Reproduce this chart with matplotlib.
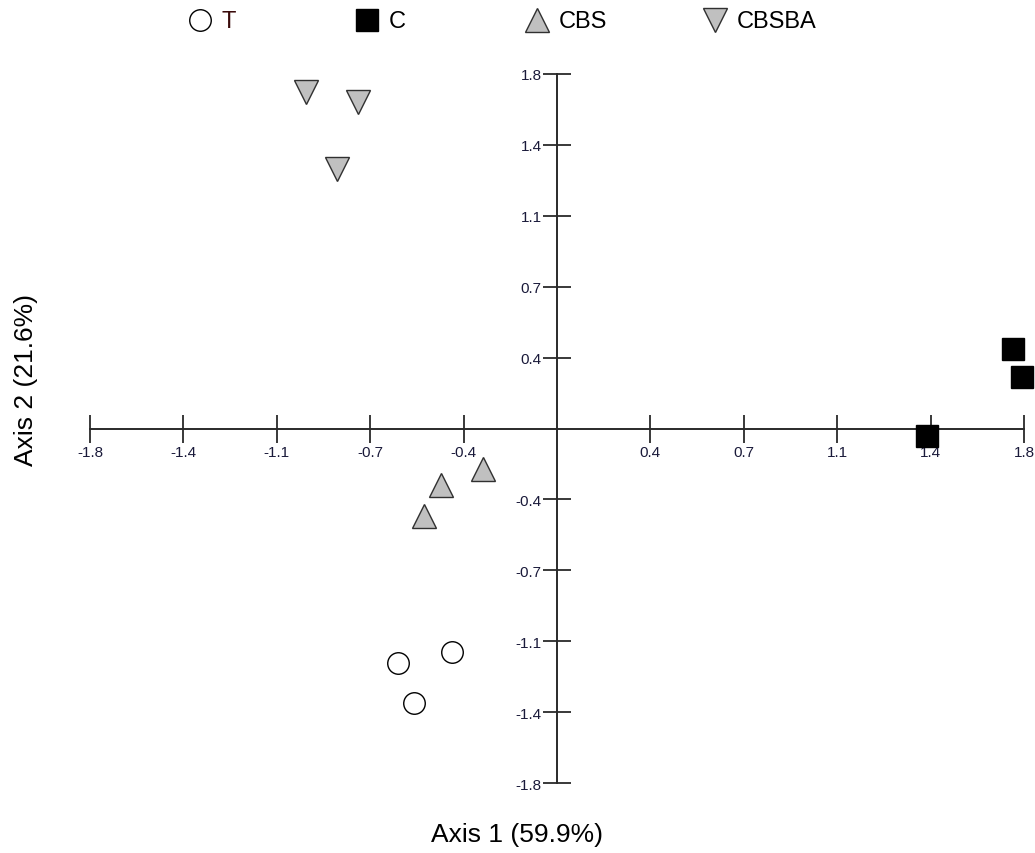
import numpy as np
import matplotlib
matplotlib.use("Agg")
import matplotlib.pyplot as plt
from matplotlib.lines import Line2D

plt.rcParams['font.family'] = ['Liberation Sans', 'DejaVu Sans']

# scores (eixo 1, eixo 2)
grupos = ['T', 'C', 'CBS', 'CBSBA']
eixo1_T = [-0.613, -0.405, -0.551]
eixo2_T = [-1.193, -1.137, -1.396]
eixo1_C = [1.758, 1.793, 1.426]
eixo2_C = [0.406, 0.259, -0.036]
eixo1_CBS = [-0.285, -0.447, -0.513]
eixo2_CBS = [-0.208, -0.287, -0.442]
eixo1_CBSBA = [-0.968, -0.767, -0.848]
eixo2_CBSBA = [1.708, 1.660, 1.320]

ticks = [-1.8, -1.44, -1.08, -0.72, -0.36, 0.36, 0.72, 1.08, 1.44, 1.8]
tick_labels = ['-1.8', '-1.4', '-1.1', '-0.7', '-0.4', '0.4', '0.7', '1.1', '1.4', '1.8']

estilos = {
    'T': dict(marker='o', mfc='white', mec='black', ms=15.5),
    'C': dict(marker='s', mfc='black', mec='black', ms=16.5),
    'CBS': dict(marker='^', mfc='#c0c0c0', mec='#303030', ms=17),
    'CBSBA': dict(marker='v', mfc='#c0c0c0', mec='#303030', ms=17),
}
dados = {
    'T': (eixo1_T, eixo2_T),
    'C': (eixo1_C, eixo2_C),
    'CBS': (eixo1_CBS, eixo2_CBS),
    'CBSBA': (eixo1_CBSBA, eixo2_CBSBA),
}

fig = plt.figure(figsize=(10.35, 8.54), dpi=100)
ax = fig.add_axes([90 / 1035, 70 / 854, 934 / 1035, 709 / 854])

for g in grupos:
    x, y = dados[g]
    ax.plot(x, y, ls='none', mew=1.0, clip_on=False, zorder=5, **estilos[g])

ax.set_xlim(-1.8, 1.8)
ax.set_ylim(-1.8, 1.8)

for lado in ['top', 'right']:
    ax.spines[lado].set_visible(False)
ax.spines['left'].set_position(('data', 0))
ax.spines['bottom'].set_position(('data', 0))
for lado in ['left', 'bottom']:
    ax.spines[lado].set_color('#2a2a2a')
    ax.spines[lado].set_linewidth(1.4)

ax.set_xticks(ticks)
ax.set_xticklabels(tick_labels)
ax.set_yticks(ticks)
ax.set_yticklabels(tick_labels)
ax.tick_params(axis='both', direction='inout', length=20, width=1.3, color='#2a2a2a',
               labelsize=11, labelcolor='#1a1a3a')
ax.tick_params(axis='x', pad=2)
ax.tick_params(axis='y', pad=1)

fig.text(517 / 1035, 1 - 835 / 854, 'Axis 1 (59.9%)', ha='center', va='center', fontsize=19)
fig.text(26 / 1035, 1 - 380 / 854, 'Axis 2 (21.6%)', ha='center', va='center',
         fontsize=19, rotation=90)

# legenda manual no topo
leg_x = [200, 367, 537, 715]
cores_txt = {'T': '#3a0a0a', 'C': 'black', 'CBS': 'black', 'CBSBA': 'black'}
for g, px in zip(grupos, leg_x):
    fig.add_artist(Line2D([px / 1035], [1 - 21 / 854], transform=fig.transFigure,
                          ls='none', mew=1.0, **estilos[g]))
    fig.text((px + 22) / 1035, 1 - 22 / 854, g, ha='left', va='center',
             fontsize=17, color=cores_txt[g])

fig.savefig('out.png', dpi=100)
